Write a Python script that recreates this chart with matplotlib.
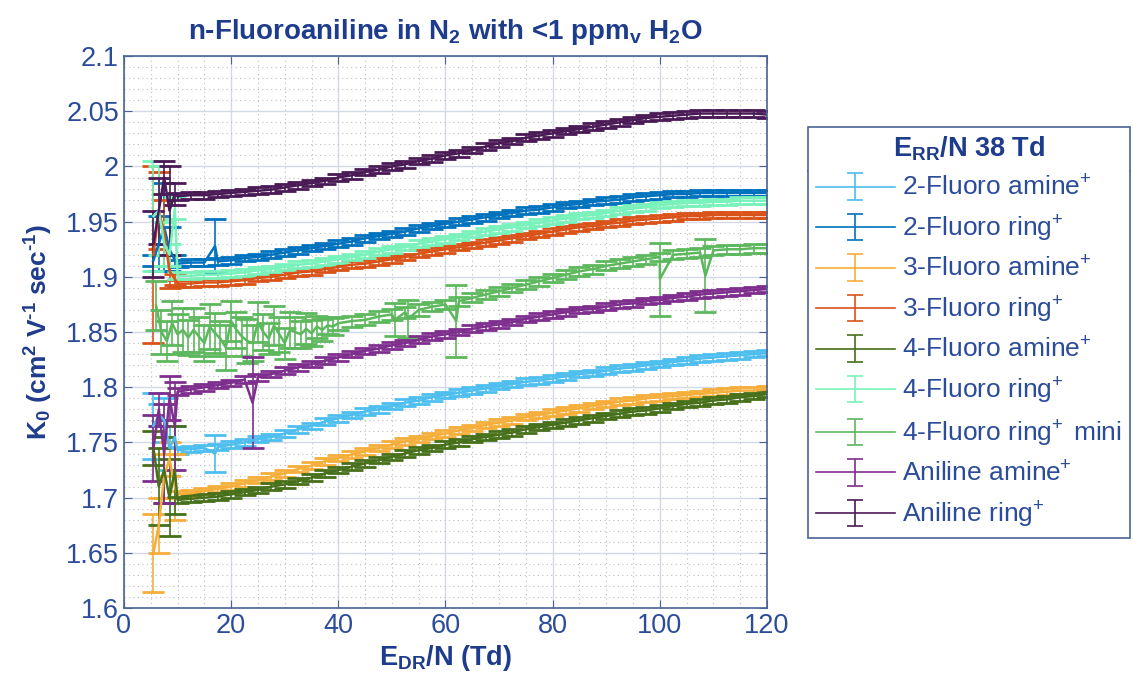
import numpy as np
import matplotlib
matplotlib.use('Agg')
import matplotlib.pyplot as plt
from matplotlib.lines import Line2D
from matplotlib.legend_handler import HandlerErrorbar
from matplotlib.container import ErrorbarContainer
from matplotlib.ticker import MultipleLocator, FuncFormatter

plt.rcParams['font.family'] = ['Liberation Sans', 'DejaVu Sans']
plt.rcParams['mathtext.fontset'] = 'custom'
plt.rcParams['mathtext.rm'] = 'Liberation Sans'
plt.rcParams['mathtext.bf'] = 'Liberation Sans:bold'
plt.rcParams['mathtext.it'] = 'Liberation Sans:italic'
plt.rcParams['mathtext.default'] = 'rm'

# common E_DR/N sweep (Td)
e_dr = [10, 12.5, 15, 17.5, 20, 22.5, 25, 27.5, 30, 32.5, 35, 37.5, 40, 42.5, 45,
        47.5, 50, 52.5, 55, 57.5, 60, 62.5, 65, 67.5, 70, 72.5, 75, 77.5, 80,
        82.5, 85, 87.5, 90, 92.5, 95, 97.5, 100, 102.5, 105, 107.5, 110, 112.5,
        115, 117.5, 120]
early_x = [5.5, 6.5, 7.5, 8.5, 9.5]

# 2-Fluoro amine+
f2_amine_k0 = [1.743, 1.744, 1.745, 1.746, 1.748, 1.750, 1.753, 1.755, 1.758, 1.762,
               1.765, 1.769, 1.772, 1.775, 1.778, 1.780, 1.783, 1.786, 1.788, 1.791,
               1.793, 1.795, 1.797, 1.799, 1.801, 1.803, 1.805, 1.806, 1.808, 1.810,
               1.812, 1.813, 1.815, 1.817, 1.818, 1.820, 1.821, 1.823, 1.824, 1.826,
               1.827, 1.828, 1.829, 1.830, 1.831]
f2_amine_early = [1.765, 1.775, 1.770, 1.745, 1.755]
f2_amine_early_err = [0.030, 0.010, 0.020, 0.020, 0.010]
f2_amine_spike = ([17], [1.740], [0.017])

# 2-Fluoro ring+
f2_ring_k0 = [1.912, 1.913, 1.913, 1.914, 1.915, 1.917, 1.918, 1.920, 1.922, 1.924,
              1.926, 1.928, 1.930, 1.932, 1.935, 1.937, 1.939, 1.941, 1.944, 1.946,
              1.948, 1.950, 1.952, 1.954, 1.956, 1.958, 1.960, 1.961, 1.963, 1.965,
              1.966, 1.968, 1.969, 1.970, 1.972, 1.973, 1.974, 1.975, 1.975, 1.976,
              1.976, 1.976, 1.976, 1.976, 1.976]
f2_ring_early = [1.915, 1.930, 1.945, 1.925, 1.915]
f2_ring_early_err = [0.005, 0.025, 0.040, 0.020, 0.005]
f2_ring_spike = ([17], [1.928], [0.024])

# 3-Fluoro amine+
f3_amine_k0 = [1.703, 1.704, 1.706, 1.708, 1.710, 1.713, 1.716, 1.719, 1.722, 1.726,
               1.729, 1.733, 1.736, 1.739, 1.742, 1.745, 1.748, 1.751, 1.753, 1.756,
               1.758, 1.761, 1.763, 1.766, 1.768, 1.770, 1.773, 1.775, 1.777, 1.779,
               1.781, 1.783, 1.785, 1.787, 1.788, 1.790, 1.791, 1.792, 1.793, 1.794,
               1.795, 1.796, 1.797, 1.797, 1.798]
f3_amine_early = [1.650, 1.675, 1.720, 1.735, 1.710]
f3_amine_early_err = [0.035, 0.025, 0.020, 0.015, 0.030]

# 3-Fluoro ring+
f3_ring_k0 = [1.894, 1.894, 1.895, 1.895, 1.896, 1.897, 1.899, 1.900, 1.902, 1.904,
              1.905, 1.907, 1.909, 1.911, 1.912, 1.914, 1.916, 1.918, 1.921, 1.923,
              1.925, 1.927, 1.929, 1.931, 1.933, 1.935, 1.937, 1.939, 1.941, 1.943,
              1.945, 1.946, 1.948, 1.949, 1.951, 1.952, 1.953, 1.954, 1.955, 1.955,
              1.956, 1.956, 1.956, 1.956, 1.956]
f3_ring_early = [1.920, 1.960, 1.940, 1.905, 1.898]
f3_ring_early_err = [0.080, 0.035, 0.030, 0.015, 0.005]

# 4-Fluoro amine+
f4_amine_k0 = [1.698, 1.699, 1.700, 1.701, 1.703, 1.705, 1.707, 1.710, 1.712, 1.715,
               1.718, 1.722, 1.725, 1.728, 1.731, 1.734, 1.737, 1.740, 1.743, 1.745,
               1.748, 1.750, 1.753, 1.755, 1.757, 1.759, 1.762, 1.764, 1.766, 1.768,
               1.770, 1.772, 1.774, 1.776, 1.778, 1.779, 1.781, 1.783, 1.785, 1.786,
               1.788, 1.789, 1.791, 1.792, 1.794]
f4_amine_early = [1.745, 1.710, 1.725, 1.700, 1.725]
f4_amine_early_err = [0.015, 0.035, 0.030, 0.035, 0.040]

# 4-Fluoro ring+
f4_ring_k0 = [1.901, 1.901, 1.902, 1.902, 1.903, 1.904, 1.906, 1.907, 1.909, 1.911,
              1.912, 1.914, 1.916, 1.918, 1.920, 1.923, 1.925, 1.927, 1.930, 1.932,
              1.934, 1.936, 1.939, 1.941, 1.943, 1.945, 1.947, 1.949, 1.951, 1.953,
              1.955, 1.956, 1.958, 1.960, 1.962, 1.963, 1.965, 1.966, 1.967, 1.967,
              1.968, 1.968, 1.969, 1.969, 1.969]
f4_ring_early = [1.955, 1.960, 1.930, 1.920, 1.962]
f4_ring_early_err = [0.050, 0.040, 0.020, 0.010, 0.010]

# 4-Fluoro ring+ mini (noisy low-field part, then smooth)
mini_x = [6, 7, 8, 9, 10, 11, 12, 13, 14, 15, 16, 17, 18, 19, 20, 21, 22, 23, 24,
          25, 26, 27, 28, 29, 30, 31, 32, 33, 34, 35, 36, 37, 38, 39, 40,
          42.5, 45, 47.5, 50, 52.5, 55, 57.5, 60, 62.5, 65, 67.5, 70, 72.5, 75,
          77.5, 80, 82.5, 85, 87.5, 90, 92.5, 95, 97.5, 100, 102.5, 105, 107.5,
          110, 112.5, 115, 117.5, 120]
mini_k0 = [1.874, 1.850, 1.842, 1.858, 1.848, 1.852, 1.845, 1.852, 1.846, 1.840,
           1.855, 1.849, 1.844, 1.836, 1.860, 1.852, 1.846, 1.842, 1.840, 1.859,
           1.850, 1.844, 1.856, 1.848, 1.840, 1.852, 1.850, 1.848, 1.853, 1.849,
           1.855, 1.852, 1.856, 1.855, 1.858,
           1.860, 1.861, 1.864, 1.866, 1.868, 1.870, 1.873, 1.875, 1.878, 1.881,
           1.884, 1.887, 1.890, 1.893, 1.896, 1.899, 1.902, 1.905, 1.907, 1.910,
           1.912, 1.914, 1.916, 1.918, 1.920, 1.921, 1.922, 1.924, 1.925, 1.925,
           1.926, 1.926]
mini_err = [0.022, 0.020, 0.018, 0.020, 0.018, 0.020, 0.016, 0.020, 0.018, 0.016,
            0.020, 0.018, 0.016, 0.020, 0.018, 0.016, 0.018, 0.020, 0.016, 0.018,
            0.016, 0.014, 0.018, 0.016, 0.014, 0.016, 0.014, 0.012, 0.014, 0.012,
            0.010, 0.010, 0.008, 0.008, 0.006,
            0.005, 0.005, 0.005, 0.005, 0.005, 0.005, 0.004, 0.004, 0.004, 0.004,
            0.004, 0.004, 0.004, 0.004, 0.004, 0.004, 0.004, 0.004, 0.004, 0.004,
            0.004, 0.004, 0.004, 0.004, 0.004, 0.004, 0.004, 0.004, 0.004, 0.004,
            0.004, 0.004]
mini_spike = ([50.5, 53, 62, 100, 108.5], [1.861, 1.862, 1.860, 1.898, 1.901],
              [0.015, 0.017, 0.033, 0.033, 0.033])

# Aniline amine+
an_amine_k0 = [1.796, 1.798, 1.800, 1.802, 1.804, 1.807, 1.809, 1.812, 1.815, 1.818,
               1.821, 1.824, 1.827, 1.830, 1.833, 1.835, 1.838, 1.840, 1.843, 1.846,
               1.848, 1.850, 1.853, 1.855, 1.857, 1.859, 1.862, 1.864, 1.866, 1.868,
               1.870, 1.871, 1.873, 1.875, 1.876, 1.878, 1.879, 1.881, 1.882, 1.884,
               1.885, 1.886, 1.887, 1.888, 1.889]
an_amine_early = [1.745, 1.780, 1.740, 1.790, 1.765]
an_amine_early_err = [0.030, 0.015, 0.045, 0.020, 0.040]
an_amine_spike = ([24], [1.786], [0.041])

# Aniline ring+
an_ring_k0 = [1.973, 1.974, 1.974, 1.975, 1.976, 1.977, 1.978, 1.979, 1.981, 1.983,
              1.985, 1.987, 1.990, 1.992, 1.995, 1.997, 2.000, 2.002, 2.005, 2.007,
              2.010, 2.012, 2.015, 2.018, 2.021, 2.023, 2.026, 2.028, 2.030, 2.032,
              2.034, 2.036, 2.038, 2.040, 2.042, 2.044, 2.045, 2.046, 2.047, 2.048,
              2.048, 2.048, 2.048, 2.048, 2.047]
an_ring_early = [1.930, 1.960, 1.990, 1.960, 1.975]
an_ring_early_err = [0.030, 0.030, 0.015, 0.040, 0.010]

smooth_err = 0.003

labels = ['2-Fluoro amine$\\!^+$', '2-Fluoro ring$\\!^+$', '3-Fluoro amine$\\!^+$',
          '3-Fluoro ring$\\!^+$', '4-Fluoro amine$\\!^+$', '4-Fluoro ring$\\!^+$',
          '4-Fluoro ring$\\!^+$ mini', 'Aniline amine$\\!^+$', 'Aniline ring$\\!^+$']
colors = ['#4DBEEE', '#0072BD', '#F6AE3A', '#D95319', '#46701A',
          '#78F2BA', '#5DB85D', '#7E2F8E', '#4A1A56']

no_spike = ([], [], [])
series = [
    (f2_amine_k0, f2_amine_early, f2_amine_early_err, f2_amine_spike),
    (f2_ring_k0, f2_ring_early, f2_ring_early_err, f2_ring_spike),
    (f3_amine_k0, f3_amine_early, f3_amine_early_err, no_spike),
    (f3_ring_k0, f3_ring_early, f3_ring_early_err, no_spike),
    (f4_amine_k0, f4_amine_early, f4_amine_early_err, no_spike),
    (f4_ring_k0, f4_ring_early, f4_ring_early_err, no_spike),
    None,
    (an_amine_k0, an_amine_early, an_amine_early_err, an_amine_spike),
    (an_ring_k0, an_ring_early, an_ring_early_err, no_spike),
]

text_blue = '#2B4C9B'
dark_blue = '#1E3C8C'
axis_col = '#4A6394'

fig = plt.figure(figsize=(11.33, 6.84), dpi=100)
ax = fig.add_axes([0.1094, 0.111, 0.5676, 0.807])

handles = []
for i, s in enumerate(series):
    if s is None:
        x = list(mini_x) + list(mini_spike[0])
        y = list(mini_k0) + list(mini_spike[1])
        e = list(mini_err) + list(mini_spike[2])
    else:
        k0, early, early_err, spike = s
        x = early_x + e_dr + list(spike[0])
        y = early + k0 + list(spike[1])
        e = early_err + [smooth_err] * len(k0) + list(spike[2])
    order = np.argsort(x, kind='stable')
    x = np.array(x)[order]
    y = np.array(y)[order]
    e = np.array(e)[order]
    h = ax.errorbar(x, y, yerr=e, color=colors[i], lw=1.8, elinewidth=1.2,
                    capsize=8, capthick=2.0, label=labels[i])
    handles.append(h)

ax.set_xlim(0, 120)
ax.set_ylim(1.6, 2.1)
ax.set_xticks(np.arange(0, 121, 20))
ax.set_yticks(np.arange(1.6, 2.1001, 0.05))
ax.yaxis.set_major_formatter(FuncFormatter(lambda v, p: f'{v:g}'))
ax.xaxis.set_minor_locator(MultipleLocator(5))
ax.yaxis.set_minor_locator(MultipleLocator(0.01))
ax.grid(which='major', color='#D3DAE6', lw=1.0)
ax.grid(which='minor', color='#BDBDBD', lw=0.8, ls=(0, (1, 3)))
ax.set_axisbelow(True)
ax.tick_params(which='both', direction='in', top=True, right=True,
               colors=axis_col, labelcolor=text_blue, labelsize=19.5)
ax.tick_params(which='major', length=6)
ax.tick_params(which='minor', length=0)
for sp in ax.spines.values():
    sp.set_color(axis_col)
    sp.set_linewidth(1.2)

ax.set_title(r'n-Fluoroaniline in $\mathbf{N_2}$ with <1 $\mathbf{ppm_v}$ $\mathbf{H_2O}$',
             fontsize=20, fontweight='bold', color=dark_blue, pad=12)
ax.set_xlabel(r'$\mathbf{E_{DR}}$/N (Td)', fontsize=19.5, fontweight='bold',
              color=dark_blue, labelpad=3)
ax.set_ylabel('$\\mathbf{K_0}$ (cm$\\mathbf{^2}$ V$\\mathbf{^{\u20101}}$ '
              'sec$\\mathbf{^{\u20101}}$)',
              fontsize=19, fontweight='bold', color=dark_blue, labelpad=8)


def legend_props(legend_handle, orig_handle):
    legend_handle.update_from(orig_handle)
    # legend caps and lines a little slimmer than on the data
    if isinstance(legend_handle, Line2D):
        if orig_handle.get_marker() == '_':
            legend_handle.set_markersize(11)
            legend_handle.set_markeredgewidth(1.2)
        else:
            legend_handle.set_linewidth(1.2)


leg = fig.legend(handles=handles, labels=labels, loc='upper left',
                 bbox_to_anchor=(0.713, 0.815, 0.284, 0.0), mode='expand',
                 fontsize=19, title=r'$\mathbf{E_{RR}}$/N 38 Td',
                 title_fontproperties={'size': 19.5, 'weight': 'bold'},
                 fancybox=False, framealpha=1, edgecolor=axis_col,
                 handlelength=3.0, handletextpad=0.25, labelspacing=0.48,
                 borderaxespad=0, borderpad=0.3, labelcolor=text_blue,
                 handler_map={ErrorbarContainer: HandlerErrorbar(update_func=legend_props)})
leg.get_title().set_color(dark_blue)
leg.get_frame().set_linewidth(1.2)

fig.canvas.draw()
tb = leg.get_title().get_window_extent()
lb = leg.get_window_extent()
y_sep = tb.y0 - 8
fig.add_artist(Line2D([lb.x0, lb.x1], [y_sep, y_sep], transform=None,
                      color=axis_col, lw=1.2))

fig.savefig('out.png', dpi=100)
